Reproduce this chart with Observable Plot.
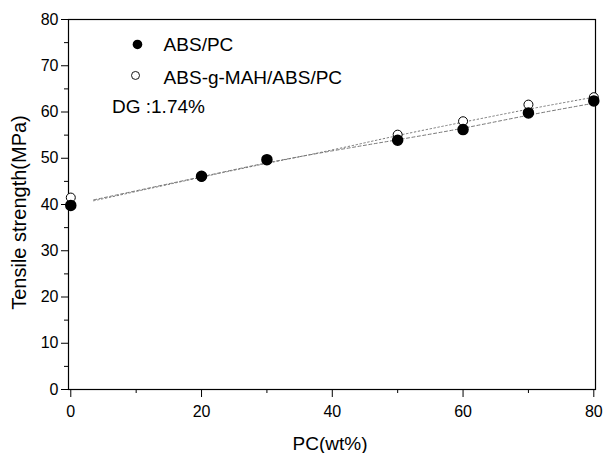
<!DOCTYPE html>
<html>
<head>
<meta charset="utf-8">
<script src="https://cdn.jsdelivr.net/npm/d3@7"></script>
<script src="https://cdn.jsdelivr.net/npm/@observablehq/plot@0.6"></script>
<style>
  html, body { margin: 0; padding: 0; background: #fff; }
  #chart svg { display: block; }
</style>
</head>
<body>
<div id="chart"></div>
<script>
// PC content (wt%)
const pcWt = [0, 20, 30, 50, 60, 70, 80];
// Tensile strength (MPa)
const absPc = [39.8, 46.1, 49.7, 53.9, 56.2, 59.8, 62.4];
const gMahAbsPc = [41.5, 46.0, 49.6, 55.1, 58.0, 61.6, 63.2];
// fitted curves
const fitX = [3.5, 20, 30, 40, 50, 60, 70, 80];
const fitAbsPc = [41.0, 46.0, 49.0, 51.6, 54.0, 56.5, 59.3, 61.9];
const fitGMah = [40.8, 45.9, 48.9, 51.8, 54.9, 57.8, 60.6, 63.2];
// ticks
const xTicks = [0, 20, 40, 60, 80];
const xMinor = [10, 30, 50, 70];
const yTicks = [0, 10, 20, 30, 40, 50, 60, 70, 80];
const yMinor = [5, 15, 25, 35, 45, 55, 65, 75];
// labels
const seriesNames = ["ABS/PC", "ABS-g-MAH/ABS/PC"];
const noteText = "DG :1.74%";
const xLabel = "PC(wt%)";
const yLabel = "Tensile strength(MPa)";

const pts = (ys) => pcWt.map((x, i) => ({x, y: ys[i]}));
const fit = (ys) => fitX.map((x, i) => ({x, y: ys[i]}));

const font = "'Liberation Sans', Arial, sans-serif";

const chart = Plot.plot({
  width: 603,
  height: 453,
  marginLeft: 68,
  marginRight: 8,
  marginTop: 19,
  marginBottom: 64,
  style: {fontFamily: font, fontSize: "15px", color: "#000", background: "#fff"},
  x: {domain: [-0.35, 80.26]},
  y: {domain: [0, 80]},
  marks: [
    Plot.line(fit(fitGMah), {x: "x", y: "y", stroke: "#777", strokeWidth: 1, strokeDasharray: "1.5,2.5", curve: "natural"}),
    Plot.line(fit(fitAbsPc), {x: "x", y: "y", stroke: "#777", strokeWidth: 1, strokeDasharray: "3,2.5", curve: "natural"}),
    Plot.axisX(xTicks, {tickSize: 8, tickPadding: 8, fontSize: 16, label: null}),
    Plot.axisX(xMinor, {tickSize: 4, tickFormat: () => "", label: null}),
    Plot.axisY(yTicks, {tickSize: 7, tickPadding: 3, fontSize: 16, label: null}),
    Plot.axisY(yMinor, {tickSize: 4, tickFormat: () => "", label: null}),
    Plot.frame({stroke: "#000", strokeWidth: 1.2}),
    Plot.dot(pts(gMahAbsPc), {x: "x", y: "y", r: 4.5, fill: "#fff", stroke: "#000", strokeWidth: 1}),
    Plot.dot(pts(absPc), {x: "x", y: "y", r: 5, fill: "#000", stroke: "#000"}),
    // legend
    Plot.dot([{x: 10.2, y: 74.6}], {x: "x", y: "y", r: 4.8, fill: "#000"}),
    Plot.dot([{x: 9.9, y: 67.9}], {x: "x", y: "y", r: 4, fill: "#fff", stroke: "#000", strokeWidth: 0.9}),
    Plot.text([{x: 14.2, y: 74.4, t: seriesNames[0]}, {x: 14.2, y: 67.3, t: seriesNames[1]}],
      {x: "x", y: "y", text: "t", textAnchor: "start", fontSize: 19, fill: "#000"}),
    Plot.text([{x: 6.3, y: 61.1, t: noteText}], {x: "x", y: "y", text: "t", textAnchor: "start", fontSize: 19, fill: "#000"}),
    // axis titles
    Plot.text([xLabel], {frameAnchor: "bottom", textAnchor: "middle", lineAnchor: "middle", dx: -2, dy: 54, fontSize: 19, fill: "#000"}),
    Plot.text([yLabel], {frameAnchor: "left", textAnchor: "middle", lineAnchor: "middle", dx: -49, dy: 8, rotate: -90, fontSize: 20, fill: "#000"})
  ]
});
document.getElementById("chart").appendChild(chart);
</script>
</body>
</html>
